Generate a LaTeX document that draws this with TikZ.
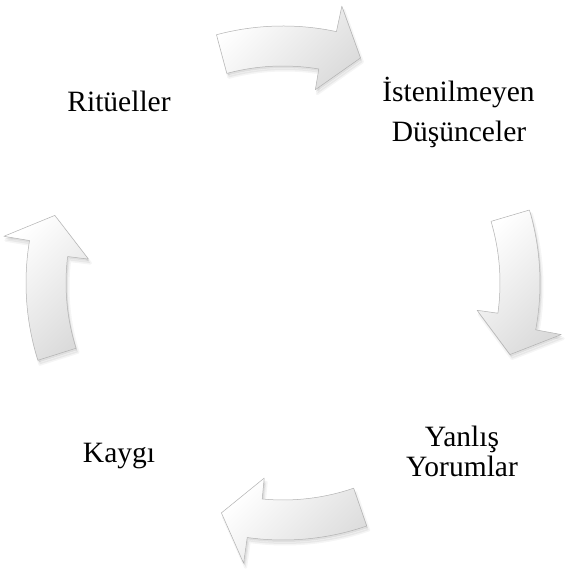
\documentclass[tikz,border=0pt]{standalone}
\usepackage{fontspec}
\setmainfont{Liberation Serif}
\usetikzlibrary{calc}
\tikzset{
  arrowbody/.style={draw=gray!60, line width=0.5pt, top color=white, bottom color=gray!28, shading angle=45, line join=round},
  arrowshadow/.style={fill=black, opacity=0.05, draw=black, draw opacity=0.04, line width=3pt, line join=round},
  lbl/.style={font=\fontsize{29.5}{35}\selectfont, anchor=base, inner sep=0pt}
}
\newcommand\cycArrowPath[1]{%
  ($(C)+(#1:257)$) -- ($(C)+(#1:217)$)
  arc[start angle=#1, end angle={#1-24.5}, radius=217pt]
  -- ($(C)+({#1-24.5}:196)$) -- ($(C)+({#1-34}:238)$) -- ($(C)+({#1-27}:283)$)
  -- ($(C)+({#1-27}:257)$)
  arc[start angle={#1-27}, end angle=#1, radius=257pt] -- cycle}
\newcommand\cycArrow[1]{%
  \begin{scope}[transform canvas={shift={(2pt,-4pt)}}]
    \path[arrowshadow] \cycArrowPath{#1};
  \end{scope}
  \begin{scope}[transform canvas={shift={(1pt,-2pt)}}]
    \fill[black, opacity=0.08] \cycArrowPath{#1};
  \end{scope}
  \path[arrowbody] \cycArrowPath{#1};}
\begin{document}
\begin{tikzpicture}[x=1pt,y=1pt]
  \fill[white] (0,0) rectangle (565,570);
  \useasboundingbox (0,0) rectangle (565,570);
  \coordinate (C) at (283,287);
  \cycArrow{105}
  \cycArrow{16.5}
  \cycArrow{-71}
  \cycArrow{197.5}
  \node[lbl] (rit) at (119,458) {Ritüeller};
  \node[lbl] (ist1) at (458.5,468) {İstenilmeyen};
  \node[lbl] (ist2) at (459,428) {Düşünceler};
  \node[lbl] (yan1) at (462,123) {Yanlış};
  \node[lbl] (yan2) at (462,93) {Yorumlar};
  \node[lbl] (kay) at (119,107) {Kaygı};
\end{tikzpicture}
\end{document}
